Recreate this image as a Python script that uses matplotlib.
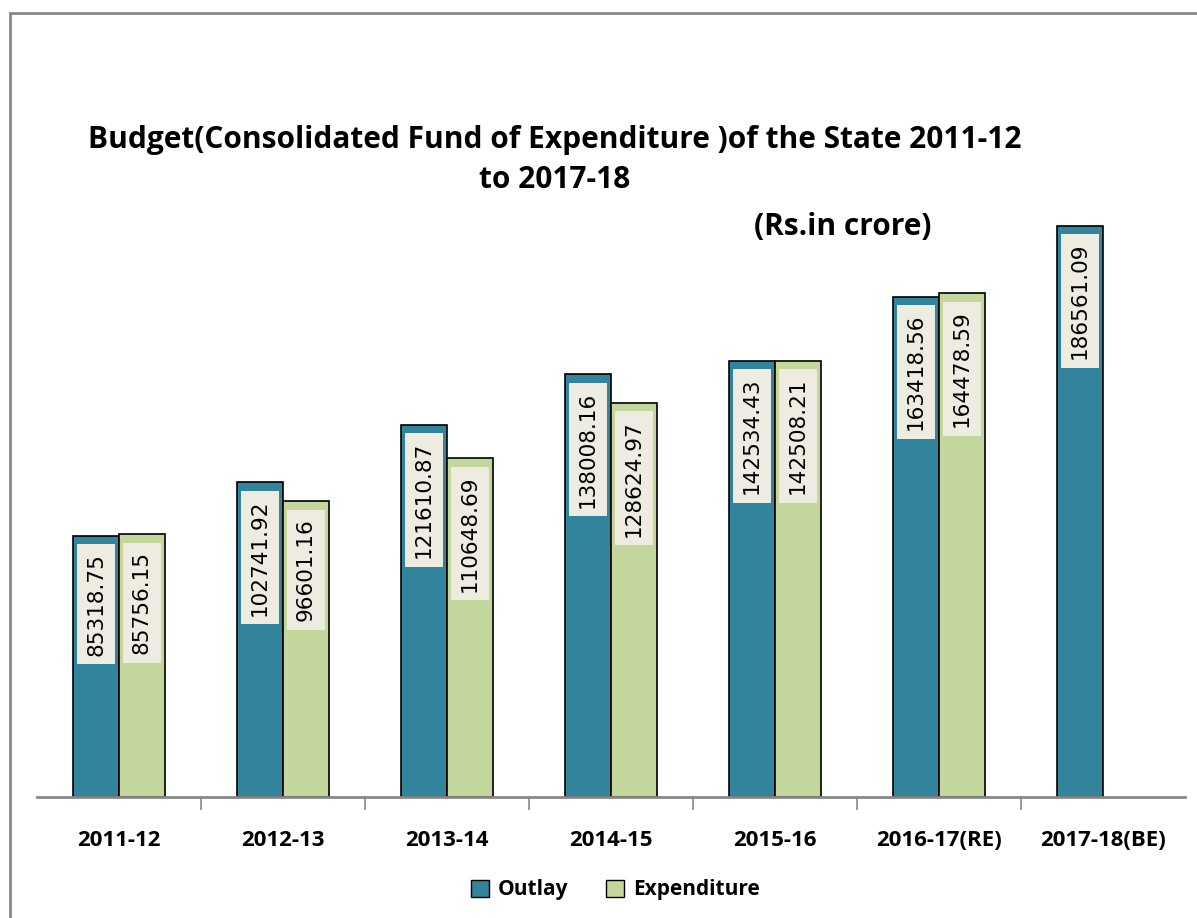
import matplotlib.pyplot as plt
import numpy as np
from matplotlib.patches import Rectangle

# datos (Rs. in crore)
categorias = ['2011-12', '2012-13', '2013-14', '2014-15', '2015-16', '2016-17(RE)', '2017-18(BE)']
outlay = [85318.75, 102741.92, 121610.87, 138008.16, 142534.43, 163418.56, 186561.09]
expenditure = [85756.15, 96601.16, 110648.69, 128624.97, 142508.21, 164478.59, None]

color_outlay = '#31849B'
color_exp = '#C3D69B'
color_caja = '#EEECE1'

fig = plt.figure(figsize=(11.97, 9.18), dpi=100)
ax = fig.add_axes([37 / 1197, 121 / 918, 1148 / 1197, 697 / 918])

x = np.arange(len(categorias))
ancho = 0.28

for i in x:
    ax.bar(i - ancho / 2, outlay[i], ancho, color=color_outlay, edgecolor='black', linewidth=1.2)
    ax.annotate(f'{outlay[i]:.2f}', (i - ancho / 2, outlay[i]), xytext=(0, -17),
                textcoords='offset pixels', rotation=90, ha='center', va='top',
                fontsize=15.5, color='black',
                bbox=dict(boxstyle='square,pad=0.4', facecolor=color_caja, edgecolor='none'))
    if expenditure[i] is not None:
        ax.bar(i + ancho / 2, expenditure[i], ancho, color=color_exp, edgecolor='black', linewidth=1.2)
        ax.annotate(f'{expenditure[i]:.2f}', (i + ancho / 2, expenditure[i]), xytext=(0, -17),
                    textcoords='offset pixels', rotation=90, ha='center', va='top',
                    fontsize=15.5, color='black',
                    bbox=dict(boxstyle='square,pad=0.4', facecolor=color_caja, edgecolor='none'))

ax.set_xlim(-0.5, len(categorias) - 0.5)
ax.set_ylim(0, 227600)

for lado in ['top', 'right', 'left']:
    ax.spines[lado].set_visible(False)
ax.spines['bottom'].set_color('#888888')
ax.spines['bottom'].set_linewidth(2)
ax.set_yticks([])

# marcas entre categorias, etiquetas centradas
ax.set_xticks(np.arange(0.5, len(categorias) - 0.5), minor=False)
ax.set_xticklabels([])
ax.tick_params(axis='x', which='major', length=9, width=1.2, color='#888888', direction='out')
ax.set_xticks(x, minor=True)
ax.set_xticklabels(categorias, minor=True, fontsize=16, fontweight='bold', family='Open Sans')
ax.tick_params(axis='x', which='minor', length=0, pad=24)

# titulo
fig.text(555 / 1197, 1 - 140 / 918, 'Budget(Consolidated Fund of Expenditure )of the State 2011-12',
         ha='center', va='center', fontsize=21.5, fontweight='bold', family='Open Sans')
fig.text(555 / 1197, 1 - 180 / 918, 'to 2017-18',
         ha='center', va='center', fontsize=21.5, fontweight='bold', family='Open Sans')
fig.text(843 / 1197, 1 - 227 / 918, '(Rs.in crore)',
         ha='center', va='center', fontsize=21.5, fontweight='bold', family='Open Sans')

# leyenda
h1 = Rectangle((0, 0), 1, 1, facecolor=color_outlay, edgecolor='black')
h2 = Rectangle((0, 0), 1, 1, facecolor=color_exp, edgecolor='black')
fig.legend([h1, h2], ['Outlay', 'Expenditure'], loc='center', bbox_to_anchor=(615 / 1197, 1 - 890 / 918),
           ncol=2, frameon=False, prop={'family': 'Open Sans', 'weight': 'bold', 'size': 15},
           handlelength=0.9, handleheight=0.9, handletextpad=0.4, columnspacing=1.8)

# marco gris
fig.patches.append(Rectangle((10 / 1197, -0.01), 1.02, 1 - 13 / 918 + 0.01, transform=fig.transFigure,
                             facecolor='none', edgecolor='#888888', linewidth=2))

fig.savefig('out.png', dpi=100)
